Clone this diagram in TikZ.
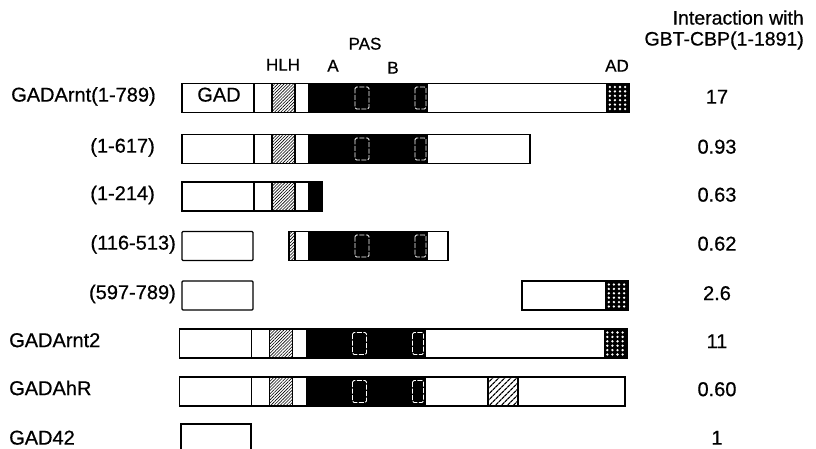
\documentclass[tikz,border=0pt]{standalone}
\usepackage{fontspec}
\setmainfont{Liberation Sans}
\newfontfamily\scanfont{Liberation Sans}[FakeBold=0.6]
\usetikzlibrary{patterns,patterns.meta}

\tikzset{
  seg/.style={line width=1.4pt},
  hlhfill/.style={pattern={Lines[angle=45,distance=2.2pt,line width=0.6pt]}},
  ahrfill/.style={pattern={Lines[angle=45,distance=4pt,line width=1.3pt]}},
  rep/.style={draw=white,dash pattern=on 5pt off 1.5pt,line width=0.8pt,rounded corners=1.5pt},
  lbl/.style={font=\scanfont\fontsize{20}{24}\selectfont,text height=0.72em,text depth=0pt,inner sep=1pt},
  dom/.style={font=\scanfont\fontsize{17}{20}\selectfont,text height=0.72em,text depth=0pt,inner sep=1pt},
}

% GAD, HLH and PAS part of a row, in row coordinates
\newcommand\gadpas{%
  \fill[hlhfill] (272,-14.5) rectangle (295,14.5);
  \fill (309,-14.5) rectangle (428,14.5);
  \draw[rep] (355,-11) rectangle (369,11);
  \draw[rep] (415,-11) rectangle (426,11);
  \foreach \xd in {254,272,295,309} \draw[seg] (\xd,-14.5) -- (\xd,14.5);
}
% AD block starting at #1
\newcommand\adbox[1]{%
  \fill (#1,-14.5) rectangle ++(23,29);
  \foreach \i in {0,...,3}
    \foreach \j in {0,...,5}
      \fill[white] (#1+3.8+5.1*\i,-11+4.4*\j) circle (1.3pt);
}

\begin{document}
\begin{tikzpicture}[x=1pt,y=-1pt]
  \useasboundingbox (0,0) rectangle (816,449);

  % headings
  \node[dom] (pas) at (365,46) {PAS};
  \node[dom] (hlh) at (283,67) {HLH};
  \node[dom] (pasa) at (333,68) {A};
  \node[dom] (pasb) at (393,70) {B};
  \node[dom] (ad) at (617,68) {AD};
  \node[font=\scanfont\fontsize{19.5}{21}\selectfont,align=right,anchor=east,inner sep=0pt]
    (hdr) at (804,30) {Interaction with\\GBT-CBP(1-1891)};

  % GADArnt(1-789)
  \begin{scope}[shift={(0,98)}]
    \begin{scope}
      \clip (182,-14.5) rectangle (629,14.5);
      \gadpas
      \adbox{606}
    \end{scope}
    \draw[seg] (182,-14.5) rectangle (629,14.5);
    \node[lbl] (gadtxt) at (219,0) {GAD};
  \end{scope}

  % (1-617)
  \begin{scope}[shift={(0,149)}]
    \begin{scope}
      \clip (182,-14.5) rectangle (530,14.5);
      \gadpas
    \end{scope}
    \draw[seg] (182,-14.5) rectangle (530,14.5);
  \end{scope}

  % (1-214)
  \begin{scope}[shift={(0,196.5)}]
    \begin{scope}
      \clip (182,-14.5) rectangle (322,14.5);
      \gadpas
    \end{scope}
    \draw[seg] (182,-14.5) rectangle (322,14.5);
  \end{scope}

  % (116-513)
  \begin{scope}[shift={(0,246)}]
    \draw[seg,rounded corners=1pt] (182,-14.5) rectangle (253,14.5);
    \begin{scope}
      \clip (289,-14.5) rectangle (448,14.5);
      \gadpas
    \end{scope}
    \draw[seg] (289,-14.5) rectangle (448,14.5);
  \end{scope}

  % (597-789)
  \begin{scope}[shift={(0,295.5)}]
    \draw[seg,rounded corners=1pt] (182,-14.5) rectangle (253,14.5);
    \begin{scope}
      \clip (522,-14.5) rectangle (628,14.5);
      \adbox{605}
    \end{scope}
    \draw[seg] (522,-14.5) rectangle (628,14.5);
  \end{scope}

  % GADArnt2
  \begin{scope}[shift={(-2.5,343.5)}]
    \begin{scope}
      \clip (182,-14.5) rectangle (629.5,14.5);
      \gadpas
      \adbox{606}
    \end{scope}
    \draw[seg] (182,-14.5) rectangle (629.5,14.5);
  \end{scope}

  % GADAhR
  \begin{scope}[shift={(-2.5,391.5)}]
    \begin{scope}
      \clip (182,-14.5) rectangle (627.5,14.5);
      \gadpas
      \fill[ahrfill] (490.5,-14.5) rectangle (520.5,14.5);
    \end{scope}
    \draw[seg] (490.5,-14.5) -- (490.5,14.5) (520.5,-14.5) -- (520.5,14.5);
    \draw[seg] (182,-14.5) rectangle (627.5,14.5);
  \end{scope}

  % GAD42
  \draw[seg] (181,452) |- (251,424) -- (251,452);

  % construct names
  \node[lbl,anchor=west] (arnt) at (10,98) {GADArnt(1-789)};
  \node[lbl,anchor=east] (d617) at (156,149) {(1-617)};
  \node[lbl,anchor=east] (d214) at (156,196.5) {(1-214)};
  \node[lbl,anchor=east] (d513) at (177,246) {(116-513)};
  \node[lbl,anchor=east] (d789) at (177,295.5) {(597-789)};
  \node[lbl,anchor=west] (arnt2) at (8,343.5) {GADArnt2};
  \node[lbl,anchor=west] (ahr) at (8,391.5) {GADAhR};
  \node[lbl,anchor=west] (g42) at (8,441) {GAD42};

  % interaction values
  \node[lbl] (v1) at (717,100) {17};
  \node[lbl] (v2) at (717,150) {0.93};
  \node[lbl] (v3) at (717,198) {0.63};
  \node[lbl] (v4) at (717,247) {0.62};
  \node[lbl] (v5) at (717,296.5) {2.6};
  \node[lbl] (v6) at (717,344.5) {11};
  \node[lbl] (v7) at (717,392.5) {0.60};
  \node[lbl] (v8) at (717,441) {1};
\end{tikzpicture}
\end{document}
